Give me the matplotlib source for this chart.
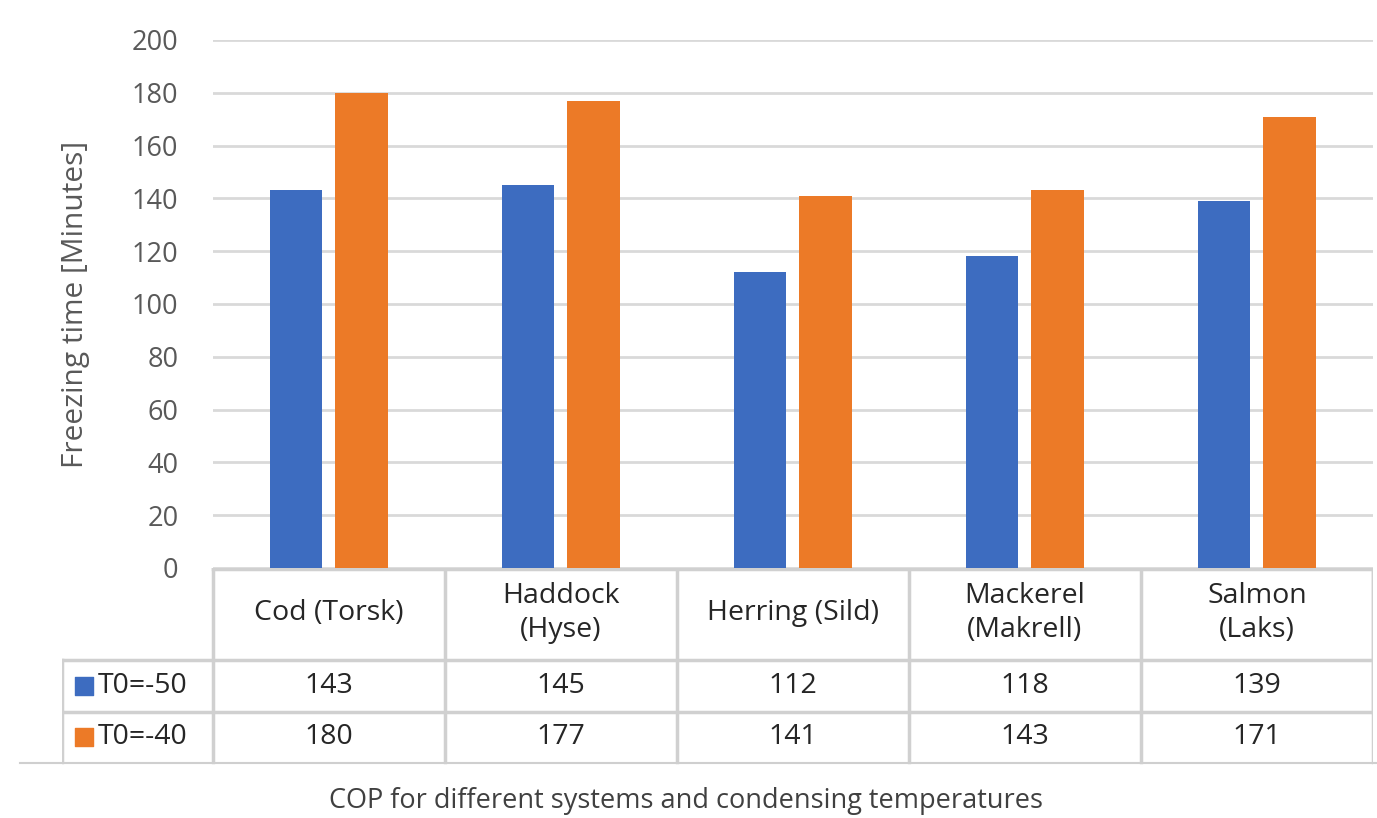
import matplotlib.pyplot as plt
import numpy as np

plt.rcParams['font.family'] = ['Open Sans', 'DejaVu Sans']

species = ['Cod (Torsk)', 'Haddock\n(Hyse)', 'Herring (Sild)', 'Mackerel\n(Makrell)', 'Salmon\n(Laks)']
series_names = ['T0=-50', 'T0=-40']
t0_minus50 = [143, 145, 112, 118, 139]
t0_minus40 = [180, 177, 141, 143, 171]
colors = ['#3d6cc0', '#ec7a27']
y_ticks = list(range(0, 201, 20))

W, H = 1377, 818
fig = plt.figure(figsize=(W / 100, H / 100), dpi=100)


def px_box(x0, y0, x1, y1):
    # figure rect from pixel corners (top-left origin)
    return [x0 / W, 1 - y1 / H, (x1 - x0) / W, (y1 - y0) / H]


ax = fig.add_axes(px_box(213, 40, 1373, 568))
x = np.arange(len(species))
bw = 0.225
ax.bar(x - 0.142, t0_minus50, bw, color=colors[0], zorder=3)
ax.bar(x + 0.140, t0_minus40, bw, color=colors[1], zorder=3)
ax.set_xlim(-0.5, len(species) - 0.5)
ax.set_ylim(0, 200)
ax.set_yticks(y_ticks)
ax.yaxis.grid(True, color='#d9d9d9', linewidth=2, zorder=0)
ax.set_xticks([])
for s in ax.spines.values():
    s.set_visible(False)
ax.tick_params(axis='y', length=0, pad=25, labelsize=19.5, labelcolor='#595959')
ax.set_ylabel('Freezing time [Minutes]', fontsize=21.5, color='#595959', labelpad=30)

# data table under the plot
legw = 151 / 232
tb = fig.add_axes(px_box(62, 568, 1373, 765))
tb.set_xlim(-0.5 - legw, len(species) - 0.5)
tb.set_ylim(765, 568)
tb.axis('off')
lc = '#d0d0d0'
lw = 2.5
tb.plot([-0.5, 4.5], [569, 569], color=lc, lw=lw)
tb.plot([-0.5 - legw, 4.5], [660, 660], color=lc, lw=lw)
tb.plot([-0.5 - legw, 4.5], [712, 712], color=lc, lw=lw)
tb.plot([-0.5 - legw, -0.5 - legw], [660, 762], color=lc, lw=lw)
for i in range(len(species) + 1):
    tb.plot([i - 0.5, i - 0.5], [569, 762], color=lc, lw=lw)
tb.plot([4.5, 4.5], [569, 712], color=lc, lw=lw)

for i, name in enumerate(species):
    tb.text(i, 613, name, ha='center', va='center', fontsize=20.5, color='#262626',
            linespacing=1.3)
for r, (vals, lab, c) in enumerate(zip([t0_minus50, t0_minus40], series_names, colors)):
    yc = 686 + r * 51
    for i, v in enumerate(vals):
        tb.text(i, yc, str(v), ha='center', va='center', fontsize=20.5, color='#262626')
    tb.scatter([-0.5 - legw + 0.095], [yc], marker='s', s=175, color=c)
    tb.text(-0.5 - legw + 0.152, yc, lab, ha='left', va='center', fontsize=20.5, color='#262626')

# separator and caption
fig.add_artist(plt.Line2D([20 / W, 1], [1 - 763 / H] * 2, color='#cfcfcf', lw=1.5))
fig.text(686 / W, 1 - 801 / H, 'COP for different systems and condensing temperatures',
         ha='center', va='center', fontsize=19.5, color='#404040')

fig.savefig('out.png', dpi=100)
